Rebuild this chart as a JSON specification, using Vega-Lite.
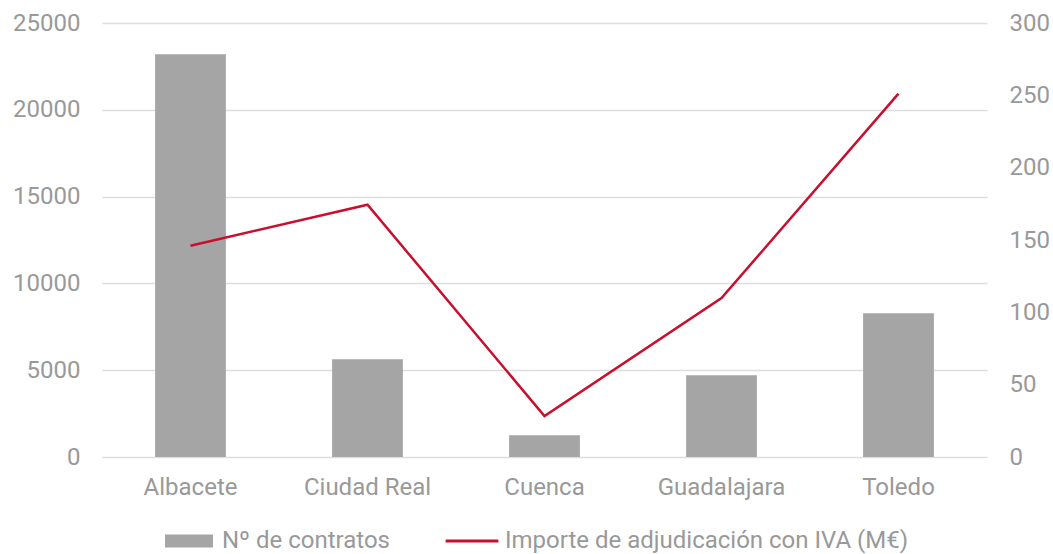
{
  "$schema": "https://vega.github.io/schema/vega-lite/v6.json",
  "width": 885,
  "height": 434,
  "autosize": {"type": "none"},
  "padding": {"left": 102, "top": 23, "right": 66, "bottom": 97},
  "background": "white",
  "config": {
    "view": {"stroke": null},
    "font": "Roboto",
    "axis": {"labelFont": "Roboto", "labelFontSize": 24, "labelColor": "#999999", "domain": false, "ticks": false, "title": null}
  },
  "data": {
    "values": [
      {"provincia": "Albacete", "contratos": 23200, "importe": 146},
      {"provincia": "Ciudad Real", "contratos": 5630, "importe": 174.4},
      {"provincia": "Cuenca", "contratos": 1260, "importe": 28.3},
      {"provincia": "Guadalajara", "contratos": 4710, "importe": 109.8},
      {"provincia": "Toledo", "contratos": 8280, "importe": 251.2}
    ]
  },
  "encoding": {
    "x": {
      "field": "provincia", "type": "nominal", "sort": null,
      "scale": {"paddingInner": 0.6, "paddingOuter": 0.3},
      "axis": {"labelAngle": 0, "labelPadding": 18, "grid": false}
    }
  },
  "layer": [
    {
      "mark": {"type": "bar"},
      "encoding": {
        "y": {
          "field": "contratos", "type": "quantitative",
          "scale": {"domain": [0, 25000]},
          "axis": {"values": [0, 5000, 10000, 15000, 20000, 25000], "format": "d", "grid": true, "gridColor": "#dedede", "gridWidth": 1.5, "labelPadding": 22, "orient": "left"}
        },
        "color": {
          "datum": "Nº de contratos", "type": "nominal",
          "scale": {"domain": ["Nº de contratos", "Importe de adjudicación con IVA (M€)"], "range": ["#a5a5a5", "#c8102e"]},
          "legend": {
            "orient": "none",
            "legendX": 63,
            "legendY": 494,
            "direction": "horizontal",
            "title": null,
            "labelFont": "Roboto",
            "labelFontSize": 24,
            "labelColor": "#999999",
            "labelLimit": 600,
            "labelOffset": 9,
            "columnPadding": 55,
            "symbolSize": 2304,
            "symbolStrokeWidth": 0,
            "symbolType": "M-1,-0.27H1V0.27H-1Z",
            "encode": {
              "symbols": {
                "update": {
                  "shape": {"signal": "datum.value === 'Nº de contratos' ? 'M-1,-0.27H1V0.27H-1Z' : 'M-1.1,-0.06H1.1V0.06H-1.1Z'"},
                  "fill": {"signal": "datum.value === 'Nº de contratos' ? '#a5a5a5' : '#c8102e'"},
                  "strokeWidth": {"value": 0}
                }
              }
            }
          }
        }
      }
    },
    {
      "mark": {"type": "line", "strokeWidth": 2.5},
      "encoding": {
        "y": {
          "field": "importe", "type": "quantitative",
          "scale": {"domain": [0, 300]},
          "axis": {"values": [0, 50, 100, 150, 200, 250, 300], "grid": false, "labelPadding": 22, "orient": "right"}
        },
        "color": {"datum": "Importe de adjudicación con IVA (M€)", "type": "nominal"}
      }
    }
  ],
  "resolve": {"scale": {"y": "independent"}, "axis": {"y": "independent"}}
}
